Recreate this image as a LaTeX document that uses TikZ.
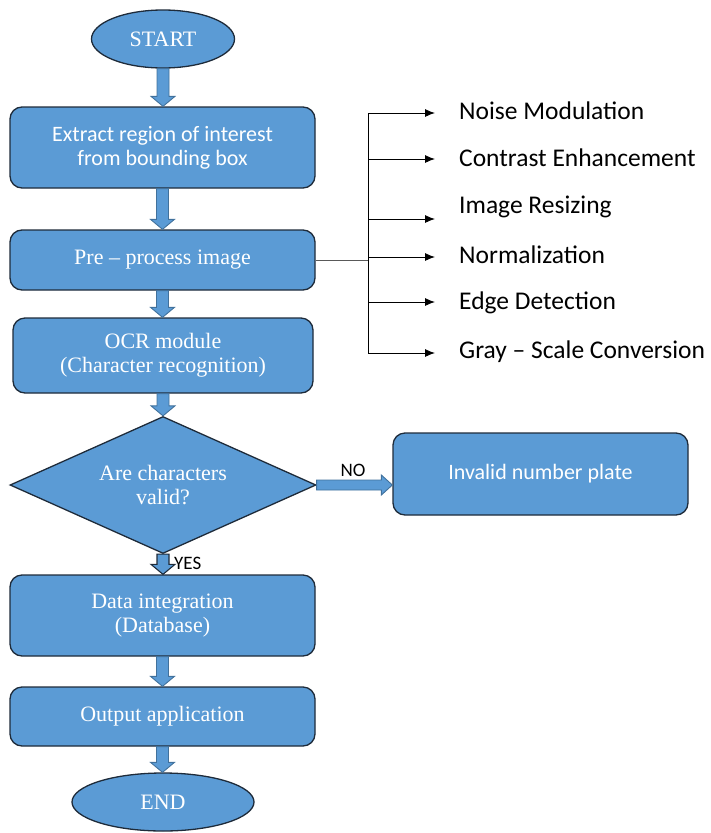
\documentclass[tikz,border=0pt]{standalone}
\usepackage{fontspec}
\setmainfont{Liberation Serif}
\newfontfamily\calfont[Ligatures=TeX]{Carlito}
\usetikzlibrary{calc,shapes.geometric,arrows.meta}
\definecolor{boxblue}{HTML}{5B9BD5}
\definecolor{boxedge}{HTML}{1E2B3A}
\definecolor{arredge}{HTML}{41719C}
\tikzset{
  proc/.style={draw=boxedge, line width=1.3pt, fill=boxblue, rounded corners=12pt, text=white, align=center, inner sep=0pt},
  term/.style={draw=boxedge, line width=1.3pt, fill=boxblue, ellipse, text=white, inner sep=0pt},
  decis/.style={draw=boxedge, line width=1.3pt, fill=boxblue, diamond, aspect=2.234, text=white, align=center, inner sep=0pt},
  blk/.style={draw=arredge, line width=0.9pt, fill=boxblue},
  blkdark/.style={draw=boxedge, line width=1.1pt, fill=boxblue},
  serifbig/.style={font=\fontsize{22}{24}\selectfont},
  sansbig/.style={font=\calfont\fontsize{22}{24}\selectfont},
  steplabel/.style={font=\calfont\fontsize{25.5}{27}\selectfont, anchor=west, inner sep=0pt},
  smalllabel/.style={font=\calfont\fontsize{19}{21}\selectfont, inner sep=0pt},
  branch/.style={line width=0.9pt, -{Latex[length=10pt,width=8pt]}},
}
\newcommand\vblock[3][blk]{%
  \path[#1] let \p1=(#2.south), \p2=(#3.north) in
    (\x1-6pt,\y1) -- (\x1+6pt,\y1) -- (\x1+6pt,\y2+10pt) -- (\x1+12pt,\y2+10pt)
    -- (\x1,\y2) -- (\x1-12pt,\y2+10pt) -- (\x1-6pt,\y2+10pt) -- cycle;}
\newcommand\hblock[2]{%
  \path[blk] let \p1=(#1.east), \p2=(#2.west) in
    (\x1,\y1+5pt) -- (\x2-11pt,\y1+5pt) -- (\x2-11pt,\y1+10pt) -- (\x2,\y1)
    -- (\x2-11pt,\y1-10pt) -- (\x2-11pt,\y1-5pt) -- (\x1,\y1-5pt) -- cycle;}
\begin{document}
\begin{tikzpicture}[x=1pt,y=-1pt]
\useasboundingbox (0,0) rectangle (711,833);
% nodes
\node[term, serifbig, minimum width=143pt, minimum height=58pt] (start) at (163,39) {START};
\node[proc, sansbig, minimum width=305pt, minimum height=81pt] (ext) at (162.5,147.5) {Extract region of interest\\from bounding box};
\node[proc, serifbig, minimum width=305pt, minimum height=60pt] (pre) at (162.5,260) {Pre -- process image};
\node[proc, serifbig, minimum width=300pt, minimum height=75pt] (ocr) at (163,355.5) {OCR module\\(Character recognition)};
\node[decis, serifbig, minimum width=306pt, minimum height=137pt] (dia) at (163,485) {Are characters\\valid?};
\node[proc, sansbig, minimum width=295pt, minimum height=82pt] (inv) at (540.5,474) {Invalid number plate};
\node[proc, serifbig, minimum width=305pt, minimum height=81pt] (data) at (162.5,615.5) {Data integration\\(Database)};
\node[proc, serifbig, minimum width=305pt, minimum height=59pt] (out) at (162.5,716.5) {Output application};
\node[term, serifbig, minimum width=182pt, minimum height=58pt] (end) at (163,802) {END};
% block arrows
\vblock{start}{ext}
\vblock{ext}{pre}
\vblock{pre}{ocr}
\vblock{ocr}{dia}
\vblock[blkdark]{dia}{data}
\vblock{data}{out}
\vblock{out}{end}
\hblock{dia}{inv}
\node[smalllabel, anchor=south] (no) at (353,477) {NO};
\node[smalllabel, anchor=west] (yes) at (174,563) {YES};
% preprocessing steps
\node[steplabel] (l1) at (459,111) {Noise Modulation};
\node[steplabel] (l2) at (459,158) {Contrast Enhancement};
\node[steplabel] (l3) at (459,207) {Image Resizing};
\node[steplabel] (l4) at (459,255) {Normalization};
\node[steplabel] (l5) at (459,303) {Edge Detection};
\node[steplabel] (l6) at (459,352) {Gray – Scale Conversion};
\coordinate (t1) at (368,113);
\coordinate (t2) at (368,159);
\coordinate (t3) at (368,219);
\coordinate (t4) at (368,257);
\coordinate (t5) at (368,302);
\coordinate (t6) at (368,353);
\draw[line width=0.9pt] (t1) -- (t6);
\draw[line width=0.6pt, gray!70!black] (pre.east) -- (pre.east -| t4);
\foreach \i in {1,...,6}{
  \draw[branch] (t\i) -- ([xshift=-24pt]l\i.west |- t\i);
}
\end{tikzpicture}
\end{document}
